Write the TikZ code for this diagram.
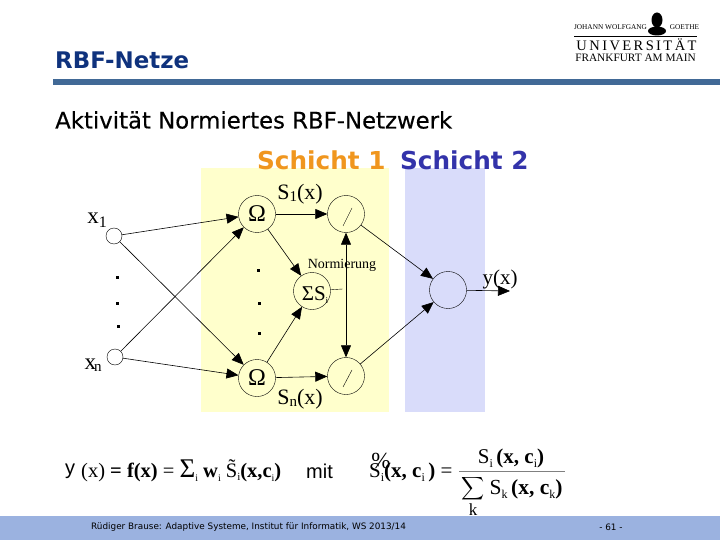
\documentclass[tikz,border=0pt]{standalone}
\usepackage{fontspec}
\setmainfont{Liberation Serif}
\newfontfamily\versal{DejaVu Sans}
\newfontfamily\versalmed[FakeBold=0.3]{DejaVu Sans}
\newfontfamily\plainsans{Liberation Sans}
\usetikzlibrary{arrows.meta}
\definecolor{layeryellow}{RGB}{255,255,204}
\definecolor{layerblue}{RGB}{217,220,250}
\definecolor{barblue}{RGB}{155,178,224}
\definecolor{ruleblue}{RGB}{65,105,150}
\definecolor{titleblue}{RGB}{15,50,125}
\definecolor{headorange}{RGB}{240,150,30}
\definecolor{headblue}{RGB}{51,51,170}
\newcommand{\fsz}[1]{\fontsize{#1}{#1}\selectfont}
\newcommand{\lowidx}[3]{\raisebox{-#2pt}{\fsz{#1}#3}}
\tikzset{
  unitbig/.style={draw, circle, minimum size=37pt, inner sep=0pt, font=\fsz{24}},
  unitsmall/.style={draw, circle, minimum size=16pt, inner sep=0pt},
  conn/.style={-{Triangle[length=12pt,width=10pt]}, line width=0.6pt},
  lbl/.style={inner sep=0pt, font=\fsz{22}},
  dotmark/.style={fill, minimum size=3pt, inner sep=0pt},
  frm/.style={anchor=west, inner sep=0pt, font=\fsz{20.5}}
}
\begin{document}
\begin{tikzpicture}[x=1pt, y=-1pt, every node/.style={text=black}]
\useasboundingbox (0,0) rectangle (720,540);
\fill[white] (0,0) rectangle (720,540);
% layers
\fill[layeryellow] (201,168) rectangle (389,412);
\fill[layerblue] (405,168) rectangle (485,412);
% footer and rule
\fill[barblue] (0,516) rectangle (720,540);
\fill[ruleblue] (53,79.5) rectangle (720,85);
% headings
\node[anchor=west, inner sep=0pt, text=titleblue, font=\versal\bfseries\fsz{22.9}] (title) at (55,60) {RBF-Netze};
\node[anchor=west, inner sep=0pt, font=\versalmed\fsz{22.8}] (subtitle) at (55,120) {Aktivität Normiertes RBF-Netzwerk};
\node[anchor=west, inner sep=0pt, text=headorange, font=\versal\bfseries\fsz{24.7}] (layerone) at (257,160) {Schicht 1};
\node[anchor=west, inner sep=0pt, text=headblue, font=\versal\bfseries\fsz{24.7}] (layertwo) at (400,160) {Schicht 2};
% logo
\node[inner sep=0pt, font=\fsz{7.3}] (goethel) at (610.5,27.5) {JOHANN WOLFGANG};
\node[inner sep=0pt, font=\fsz{7.3}] (goether) at (684.5,27.5) {GOETHE};
\draw[line width=0.6pt] (574,36)--(697,36);
\fill (657,20) ellipse (5.5pt and 7.5pt);
\fill (657,31) ellipse (9pt and 4.5pt);
\node[inner sep=0pt, font=\fsz{14.5}] (uni) at (636.5,44.5) {U\,N\,I\,V\,E\,R\,S\,I\,T\,Ä\,T};
\node[inner sep=0pt, font=\fsz{11.3}] (ffm) at (635.5,58) {FRANKFURT AM MAIN};
% units
\node[unitsmall] (xa) at (114,236) {};
\node[unitsmall] (xb) at (115,357) {};
\node[unitbig] (oma) at (257,214) {Ω};
\node[unitbig] (omb) at (257,378) {Ω};
\node[unitbig] (sum) at (312,291) {};
\node[inner sep=0pt, font=\fsz{21}] (sumtxt) at (315,295) {ΣS\lowidx{9}{3}{i}};
\node[unitbig] (diva) at (346,214) {};
\node[unitbig] (divb) at (346,376) {};
\node[unitbig] (out) at (448,290) {};
\draw (343,226)--(352,208);
\draw (343,387)--(352,370);
% connections
\draw[conn] (xa)--(oma);
\draw[conn] (xa)--(omb);
\draw[conn] (xb)--(oma);
\draw[conn] (xb)--(omb);
\draw[conn] (oma)--(sum);
\draw[conn] (omb)--(sum);
\draw[conn] (oma)--(diva);
\draw[conn] (omb)--(divb);
\draw[conn] (diva)--(out);
\draw[conn] (divb)--(out);
\coordinate (yend) at (510,291);
\draw[conn] (out)--(yend);
\coordinate (bus) at (342.5,289);
\draw (sum)--(bus);
\draw[{Triangle[length=12pt,width=10pt]}-{Triangle[length=12pt,width=10pt]}, line width=0.6pt] (diva)--(divb);
% labels
\node[inner sep=0pt, font=\fsz{23}] (xal) at (97,220) {x\lowidx{16}{4}{1}};
\node[inner sep=0pt, font=\fsz{23}] (xbl) at (93,365) {x\hspace{-2pt}\lowidx{15}{2}{n}};
\node[lbl] (sal) at (300,194) {S\lowidx{15}{2}{1}(x)};
\node[lbl] (sbl) at (300,399) {S\lowidx{15}{2}{n}(x)};
\node[inner sep=0pt, font=\fsz{21}] (yl) at (500,279) {y(x)};
\node[inner sep=0pt, font=\fsz{14}] (norm) at (342,265) {Normierung};
% dots
\foreach \x/\y in {117/277, 117/303, 118/326, 258/270, 259/303, 259/333} {
  \node[dotmark] at (\x,\y) {};
}
% formulas
\node[frm, font=\plainsans\fsz{20}] (fa) at (65,471) {y};
\node[frm] (fb) at (81,471) {(x) \textbf{= f(x)} = {\fsz{27}Σ}\lowidx{10}{4}{i} \textbf{w}\lowidx{10}{4}{i} S̃\lowidx{11}{3}{i}\textbf{(x,c}\lowidx{10}{4}{i}\textbf{)}};
\node[frm, font=\plainsans\fsz{20}] (mit) at (306,471) {mit};
\node[frm, font=\fsz{21}] (fl) at (369,472) {S\lowidx{12}{4}{i}\textbf{(x, c}\lowidx{12}{4}{i}\textbf{\,)} =};
\node[inner sep=0pt, font=\fsz{21}] (fn) at (511,458) {S\lowidx{12}{4}{i}\,\textbf{(x, c}\lowidx{12}{4}{i}\textbf{)}};
\draw[gray, line width=0.8pt] (459,471)--(565,471);
\node[inner sep=0pt, scale=1.6] (fs) at (473.5,488.5) {$\displaystyle\sum$};
\node[inner sep=0pt, font=\fsz{17}] (fk) at (473,510) {k};
\node[inner sep=0pt, font=\fsz{21.5}] (fd) at (526,489) {S\lowidx{12}{4}{k}\,\textbf{(x, c}\lowidx{12}{4}{k}\textbf{)}};
\node[inner sep=0pt, font=\fsz{23}] (tilde) at (381,461) {\%};
% footer text
\node[anchor=west, inner sep=0pt, font=\versal\fsz{8.85}] (foot) at (91,527) {Rüdiger Brause: Adaptive Systeme, Institut für Informatik, WS 2013/14};
\node[inner sep=0pt, font=\versal\fsz{8.85}] (page) at (611,527) {- 61 -};
\end{tikzpicture}
\end{document}
